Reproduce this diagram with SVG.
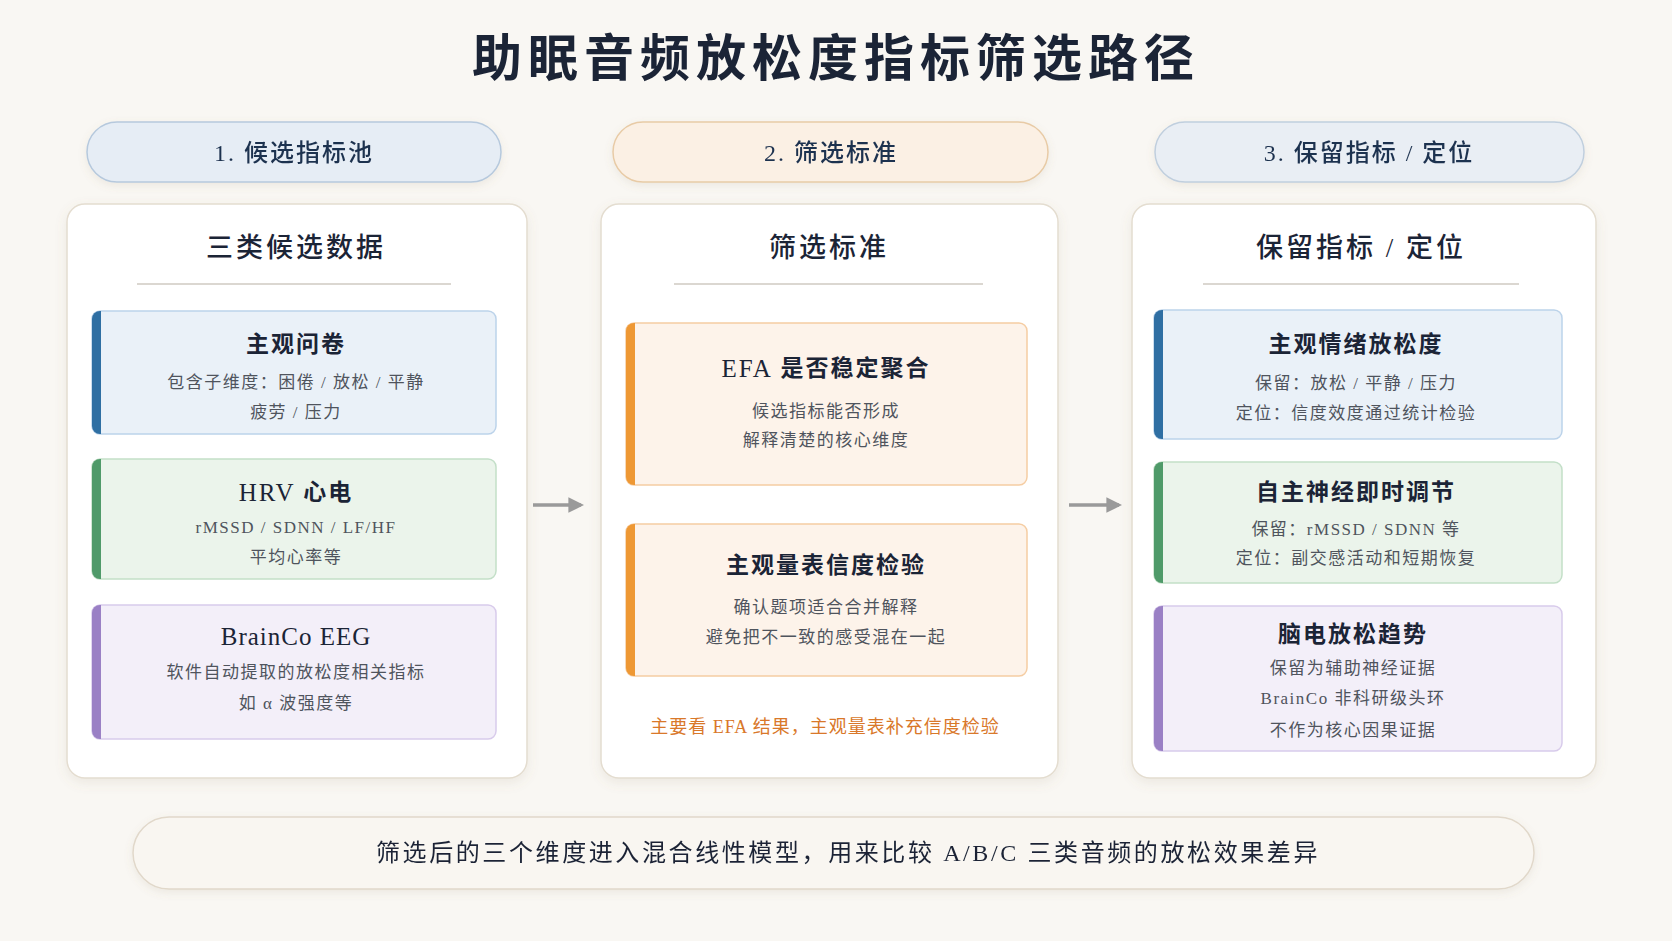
<svg xmlns="http://www.w3.org/2000/svg" width="1672" height="941" viewBox="0 0 1672 941">
<defs>
<style>
text{font-family:"Liberation Serif","Noto Sans CJK SC",serif;text-anchor:middle;dominant-baseline:central}
.title{font-size:50px;font-weight:bold;fill:#1b2436;letter-spacing:6px}
.phase{font-size:24px;font-weight:500;fill:#1f3350;letter-spacing:2px}
.ctitle{font-size:27px;font-weight:500;fill:#1b2436;letter-spacing:3px}
.btitle{font-size:23px;font-weight:600;fill:#1b2436;letter-spacing:2px}
.lat{font-weight:normal}
.sub{font-size:17px;fill:#4f545d;letter-spacing:1.5px}
.note{font-size:18px;fill:#d9782a;letter-spacing:1px}
.foot{font-size:24px;fill:#1b2436;letter-spacing:2.6px}
.card{fill:#ffffff;stroke:#e4ddd0;stroke-width:1.5}
.divider{stroke:#cfcac2;stroke-width:1.5}
.blue{fill:#eaf1f8;stroke:#bcd3ea;stroke-width:1.5}
.green{fill:#ebf4eb;stroke:#c3dfc8;stroke-width:1.5}
.purple{fill:#f3eff9;stroke:#d8cbeb;stroke-width:1.5}
.orange{fill:#fdf3ea;stroke:#f5cda3;stroke-width:1.5}
.ablue{fill:#2f6fa3}.agreen{fill:#4f9a69}.apurple{fill:#9a80c5}.aorange{fill:#ee9834}
.conn{stroke:#9a9a9a;stroke-width:3.5;fill:none}
</style>
<filter id="sh" x="-10%" y="-10%" width="120%" height="125%">
<feDropShadow dx="0" dy="4" stdDeviation="6" flood-color="#8a7a5a" flood-opacity="0.12"/>
</filter>
<filter id="sh2" x="-10%" y="-20%" width="120%" height="150%">
<feDropShadow dx="0" dy="3" stdDeviation="4" flood-color="#8a7a5a" flood-opacity="0.12"/>
</filter>
<marker id="ah" viewBox="0 0 10 10" refX="8" refY="5" markerWidth="4.5" markerHeight="4.5" orient="auto" markerUnits="strokeWidth">
<path d="M0,0 L10,5 L0,10 Z" fill="#9a9a9a"/>
</marker>
</defs>
<rect width="1672" height="941" fill="#f9f7f3"/>
<text id="title" class="title" x="836" y="59">助眠音频放松度指标筛选路径</text>

<g id="phase1" filter="url(#sh2)"><rect x="87" y="122" width="414" height="60" rx="30" fill="#e6edf5" stroke="#b6c9dd" stroke-width="1.5"/><text class="phase" x="294" y="153">1. 候选指标池</text></g>
<g id="phase2" filter="url(#sh2)"><rect x="613" y="122" width="435" height="60" rx="30" fill="#fbf0e4" stroke="#e8cba6" stroke-width="1.5"/><text class="phase" x="831" y="153">2. 筛选标准</text></g>
<g id="phase3" filter="url(#sh2)"><rect x="1155" y="122" width="429" height="60" rx="30" fill="#e9eef4" stroke="#c0cfde" stroke-width="1.5"/><text class="phase" x="1369" y="153">3. 保留指标 / 定位</text></g>

<g id="card1">
<rect class="card" x="67" y="204" width="460" height="574" rx="18" filter="url(#sh)"/>
<text class="ctitle" x="296" y="248">三类候选数据</text>
<line class="divider" x1="137" y1="284" x2="451" y2="284"/>
</g>
<g id="c1b1">
<rect class="blue" x="92" y="311" width="404" height="123" rx="8"/>
<path class="ablue" d="M100,311 H101 V434 H100 A8,8 0 0 1 92,426 V319 A8,8 0 0 1 100,311 Z"/>
<text class="btitle" x="296" y="344">主观问卷</text>
<text class="sub" x="296" y="382">包含子维度：困倦 / 放松 / 平静</text>
<text class="sub" x="296" y="412">疲劳 / 压力</text>
</g>
<g id="c1b2">
<rect class="green" x="92" y="459" width="404" height="120" rx="8"/>
<path class="agreen" d="M100,459 H101 V579 H100 A8,8 0 0 1 92,571 V467 A8,8 0 0 1 100,459 Z"/>
<text class="btitle" x="296" y="492"><tspan class="lat" style="font-size:25px">HRV</tspan> 心电</text>
<text class="sub" x="296" y="527">rMSSD / SDNN / LF/HF</text>
<text class="sub" x="296" y="557">平均心率等</text>
</g>
<g id="c1b3">
<rect class="purple" x="92" y="605" width="404" height="134" rx="8"/>
<path class="apurple" d="M100,605 H101 V739 H100 A8,8 0 0 1 92,731 V613 A8,8 0 0 1 100,605 Z"/>
<text class="btitle lat" x="296" y="636" style="font-size:25px;letter-spacing:1px">BrainCo EEG</text>
<text class="sub" x="296" y="672">软件自动提取的放松度相关指标</text>
<text class="sub" x="296" y="703">如 α 波强度等</text>
</g>

<g id="card2">
<rect class="card" x="601" y="204" width="457" height="574" rx="18" filter="url(#sh)"/>
<text class="ctitle" x="829" y="248">筛选标准</text>
<line class="divider" x1="674" y1="284" x2="983" y2="284"/>
</g>
<g id="c2b1">
<rect class="orange" x="626" y="323" width="401" height="162" rx="8"/>
<path class="aorange" d="M634,323 H635 V485 H634 A8,8 0 0 1 626,477 V331 A8,8 0 0 1 634,323 Z"/>
<text class="btitle" x="826" y="368"><tspan class="lat" style="font-size:25px">EFA</tspan> 是否稳定聚合</text>
<text class="sub" x="826" y="411">候选指标能否形成</text>
<text class="sub" x="826" y="440">解释清楚的核心维度</text>
</g>
<g id="c2b2">
<rect class="orange" x="626" y="524" width="401" height="152" rx="8"/>
<path class="aorange" d="M634,524 H635 V676 H634 A8,8 0 0 1 626,668 V532 A8,8 0 0 1 634,524 Z"/>
<text class="btitle" x="826" y="565">主观量表信度检验</text>
<text class="sub" x="826" y="607">确认题项适合合并解释</text>
<text class="sub" x="826" y="637">避免把不一致的感受混在一起</text>
</g>
<text id="note" class="note" x="825" y="727">主要看 EFA 结果，主观量表补充信度检验</text>

<g id="card3">
<rect class="card" x="1132" y="204" width="464" height="574" rx="18" filter="url(#sh)"/>
<text class="ctitle" x="1361" y="248">保留指标 / 定位</text>
<line class="divider" x1="1203" y1="284" x2="1519" y2="284"/>
</g>
<g id="c3b1">
<rect class="blue" x="1154" y="310" width="408" height="129" rx="8"/>
<path class="ablue" d="M1162,310 H1163 V439 H1162 A8,8 0 0 1 1154,431 V318 A8,8 0 0 1 1162,310 Z"/>
<text class="btitle" x="1356" y="344">主观情绪放松度</text>
<text class="sub" x="1356" y="383">保留：放松 / 平静 / 压力</text>
<text class="sub" x="1356" y="413">定位：信度效度通过统计检验</text>
</g>
<g id="c3b2">
<rect class="green" x="1154" y="462" width="408" height="121" rx="8"/>
<path class="agreen" d="M1162,462 H1163 V583 H1162 A8,8 0 0 1 1154,575 V470 A8,8 0 0 1 1162,462 Z"/>
<text class="btitle" x="1356" y="492">自主神经即时调节</text>
<text class="sub" x="1356" y="529">保留：rMSSD / SDNN 等</text>
<text class="sub" x="1356" y="558">定位：副交感活动和短期恢复</text>
</g>
<g id="c3b3">
<rect class="purple" x="1154" y="606" width="408" height="145" rx="8"/>
<path class="apurple" d="M1162,606 H1163 V751 H1162 A8,8 0 0 1 1154,743 V614 A8,8 0 0 1 1162,606 Z"/>
<text class="btitle" x="1353" y="634">脑电放松趋势</text>
<text class="sub" x="1353" y="668">保留为辅助神经证据</text>
<text class="sub" x="1353" y="698">BrainCo 非科研级头环</text>
<text class="sub" x="1353" y="730">不作为核心因果证据</text>
</g>

<g id="connectors">
<line class="conn" x1="533" y1="505" x2="581" y2="505" marker-end="url(#ah)"/>
<line class="conn" x1="1069" y1="505" x2="1119" y2="505" marker-end="url(#ah)"/>
</g>

<g id="footer" filter="url(#sh2)">
<rect x="133" y="817" width="1401" height="72" rx="36" fill="#f9f6f1" stroke="#e1d8ca" stroke-width="1.5"/>
<text class="foot" x="848" y="853">筛选后的三个维度进入混合线性模型，用来比较 A/B/C 三类音频的放松效果差异</text>
</g>
</svg>
